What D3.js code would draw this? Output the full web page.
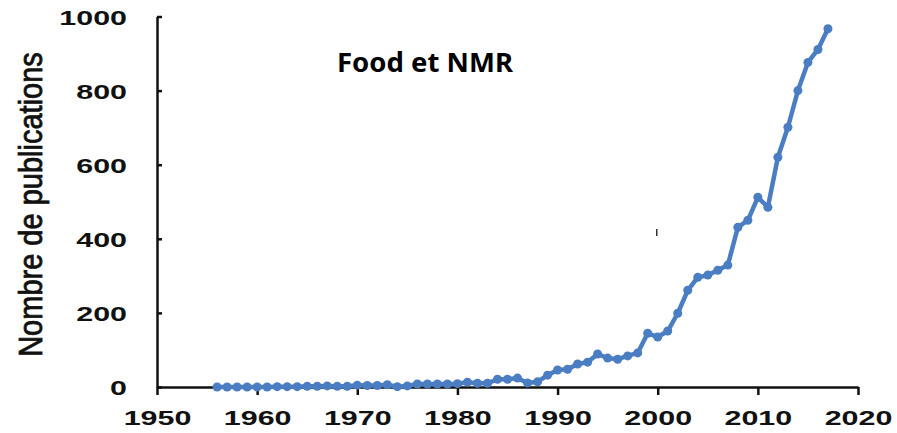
<!DOCTYPE html>
<html>
<head>
<meta charset="utf-8">
<script src="https://cdn.jsdelivr.net/npm/d3@7"></script>
<style>
  body { margin: 0; background: #fff; }
  svg { display: block; }
</style>
</head>
<body>
<div id="chart"></div>
<script>
// publications per year
var years = d3.range(1956, 2018);
var counts = [0, 0, 0, 0, 0, 0, 1, 1, 1, 2,
              2, 3, 2, 2, 5, 4, 4, 6, 1, 3,
              8, 8, 8, 8, 9, 13, 10, 10, 21, 21,
              24, 11, 14, 32, 46, 48, 62, 67, 89, 78,
              75, 84, 92, 145, 135, 151, 199, 261, 296, 302,
              315, 329, 431, 450, 512, 485, 620, 701, 800, 876,
              911, 967];
var xTicks = [1950, 1960, 1970, 1980, 1990, 2000, 2010, 2020];
var yTicks = [0, 200, 400, 600, 800, 1000];

var data = years.map((y, i) => ({year: y, value: counts[i]}));

var W = 897, H = 433;
var margin = {top: 16.5, right: 39, bottom: 46, left: 157};
var width = W - margin.left - margin.right,
    height = H - margin.top - margin.bottom;

var svg = d3.select("#chart")
  .append("svg")
    .attr("width", W)
    .attr("height", H)
  .append("g")
    .attr("transform", `translate(${margin.left},${margin.top})`);

var x = d3.scaleLinear().domain([1950, 2020]).range([0, width]);
var y = d3.scaleLinear().domain([0, 1000]).range([height, 0]);

var sx = 1.45; // labels look stretched sideways

// X axis
var gx = svg.append("g")
  .attr("transform", `translate(0,${height})`)
  .call(d3.axisBottom(x).tickValues(xTicks).tickFormat(d3.format("d")).tickSizeInner(8).tickSizeOuter(0));
gx.selectAll("text")
  .attr("y", 0)
  .attr("dy", 0)
  .attr("transform", `translate(0,38) scale(${sx},1)`);

// Y axis
var gy = svg.append("g")
  .call(d3.axisLeft(y).tickValues(yTicks).tickFormat(d3.format("d")).tickSizeInner(-5).tickSizeOuter(0));
gy.selectAll("text")
  .attr("x", 0)
  .attr("dy", 0)
  .attr("transform", `translate(-30,7.5) scale(${sx},1)`);

svg.selectAll(".tick text")
  .style("font-family", "Liberation Sans, Arial, sans-serif")
  .style("font-weight", "bold")
  .style("font-size", "21px")
  .style("fill", "#111");

svg.selectAll(".domain, .tick line")
  .attr("stroke", "#111")
  .attr("stroke-width", 2.5);

// line + markers
var line = d3.line().x(d => x(d.year)).y(d => y(d.value));
svg.append("path")
  .datum(data)
  .attr("fill", "none")
  .attr("stroke", "#4a7dc2")
  .attr("stroke-width", 4.5)
  .attr("stroke-linejoin", "round")
  .attr("d", line);

svg.selectAll(".pt")
  .data(data)
  .join("circle")
    .attr("class", "pt")
    .attr("cx", d => x(d.year))
    .attr("cy", d => y(d.value))
    .attr("r", 4.5)
    .attr("fill", "#4a7dc2");

// y title
d3.select("svg").append("text")
  .attr("transform", "translate(42,204.5) scale(1.15,1) rotate(-90)")
  .attr("text-anchor", "middle")
  .style("font-family", "Liberation Sans, Arial, sans-serif")
  .style("font-size", "29px")
  .style("fill", "#111")
  .style("stroke", "#111")
  .style("stroke-width", 0.7)
  .text("Nombre de publications");

// chart title
d3.select("svg").append("text")
  .attr("x", 337)
  .attr("y", 72)
  .attr("textLength", 176)
  .attr("lengthAdjust", "spacingAndGlyphs")
  .style("font-family", "Noto Sans, sans-serif")
  .style("font-weight", "bold")
  .style("font-size", "27px")
  .style("fill", "#000")
  .text("Food et NMR");

// small stray mark in the original
d3.select("svg").append("rect")
  .attr("x", 656).attr("y", 229).attr("width", 1.5).attr("height", 7)
  .attr("fill", "#333");
</script>
</body>
</html>
